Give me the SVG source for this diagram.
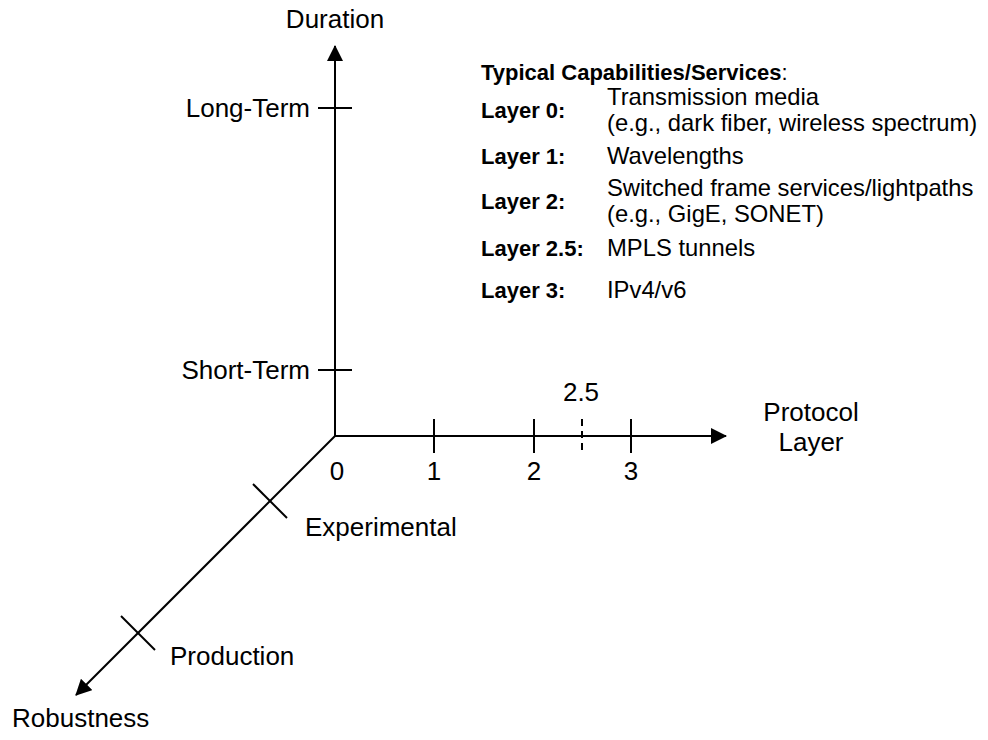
<svg xmlns="http://www.w3.org/2000/svg" width="988" height="740" viewBox="0 0 988 740">
<style>
  .ax { stroke:#000; stroke-width:2; fill:none; }
  .tk { stroke:#000; stroke-width:2; fill:none; }
  .lbl { font-family:"Liberation Sans", Arial, sans-serif; font-size:26px; fill:#000; }
  .lg { font-family:"Liberation Sans", Arial, sans-serif; font-size:23.8px; fill:#000; }
  .lgb { font-family:"Liberation Sans", Arial, sans-serif; font-size:22px; font-weight:bold; fill:#000; }
</style>
<defs>
  <marker id="arr" viewBox="0 0 16 16" refX="15" refY="8" markerWidth="16" markerHeight="16" markerUnits="userSpaceOnUse" orient="auto">
    <path d="M0,0 L16,8 L0,16 Z" fill="#000"/>
  </marker>
</defs>
<rect width="988" height="740" fill="#fff"/>
<g id="connectors">
  <line class="ax" x1="335" y1="436" x2="335" y2="46" marker-end="url(#arr)"/>
  <line class="ax" x1="335" y1="436" x2="726" y2="436" marker-end="url(#arr)"/>
  <line class="ax" x1="335" y1="436" x2="76" y2="695" marker-end="url(#arr)"/>
</g>
<g id="duration-axis">
  <text class="lbl" x="335" y="28" text-anchor="middle">Duration</text>
  <line class="tk" x1="318" y1="108" x2="352" y2="108"/>
  <text class="lbl" x="310" y="117" text-anchor="end">Long-Term</text>
  <line class="tk" x1="318" y1="370" x2="352" y2="370"/>
  <text class="lbl" x="310" y="379" text-anchor="end">Short-Term</text>
</g>
<g id="protocol-axis">
  <text class="lbl" x="811" y="421" text-anchor="middle">Protocol</text>
  <text class="lbl" x="811" y="451" text-anchor="middle">Layer</text>
  <line class="tk" x1="434" y1="419" x2="434" y2="453"/>
  <line class="tk" x1="534" y1="419" x2="534" y2="453"/>
  <line class="tk" x1="582" y1="419" x2="582" y2="453" stroke-dasharray="7,5"/>
  <line class="tk" x1="631" y1="419" x2="631" y2="453"/>
  <text class="lbl" x="337" y="480" text-anchor="middle">0</text>
  <text class="lbl" x="434" y="480" text-anchor="middle">1</text>
  <text class="lbl" x="534" y="480" text-anchor="middle">2</text>
  <text class="lbl" x="631" y="480" text-anchor="middle">3</text>
  <text class="lbl" x="581" y="401" text-anchor="middle">2.5</text>
</g>
<g id="robustness-axis">
  <line class="tk" x1="253" y1="484" x2="287" y2="518"/>
  <text class="lbl" x="305" y="536">Experimental</text>
  <line class="tk" x1="121" y1="616" x2="155" y2="650"/>
  <text class="lbl" x="170" y="665">Production</text>
  <text class="lbl" x="12" y="727">Robustness</text>
</g>
<g id="legend">
  <text class="lgb" x="481" y="80">Typical Capabilities/Services<tspan font-weight="normal">:</tspan></text>
  <text class="lgb" x="481" y="118">Layer 0:</text>
  <text class="lg" x="607" y="105">Transmission media</text>
  <text class="lg" x="607" y="131">(e.g., dark fiber, wireless spectrum)</text>
  <text class="lgb" x="481" y="164">Layer 1:</text>
  <text class="lg" x="607" y="164">Wavelengths</text>
  <text class="lgb" x="481" y="209">Layer 2:</text>
  <text class="lg" x="607" y="196">Switched frame services/lightpaths</text>
  <text class="lg" x="607" y="222">(e.g., GigE, SONET)</text>
  <text class="lgb" x="481" y="256">Layer 2.5:</text>
  <text class="lg" x="607" y="256">MPLS tunnels</text>
  <text class="lgb" x="481" y="298">Layer 3:</text>
  <text class="lg" x="607" y="298">IPv4/v6</text>
</g>
</svg>
